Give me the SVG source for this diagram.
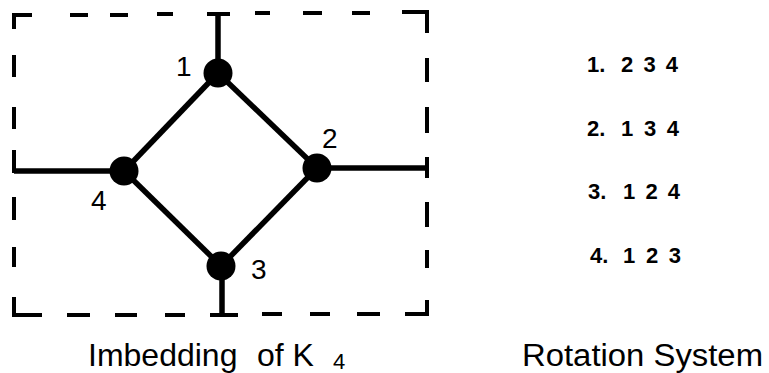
<svg xmlns="http://www.w3.org/2000/svg" width="769" height="373" viewBox="0 0 769 373">
<style>
.frame{fill:none;stroke:#000;stroke-width:4;stroke-linecap:butt;stroke-linejoin:miter}
.edge{fill:none;stroke:#000;stroke-width:5.5;stroke-linecap:butt}
.node{fill:#000}
.lbl{font-family:"Liberation Sans",Arial,sans-serif;font-size:28px;fill:#000}
.rot{font-family:"Liberation Sans",Arial,sans-serif;font-size:22px;font-weight:bold;fill:#000}
.cap{font-family:"Liberation Sans",Arial,sans-serif;font-size:32px;fill:#000}
</style>
<rect width="769" height="373" fill="#fff"/>
<g id="frame" class="frame">
<path d="M14,29 L14,15 L32,15"/>
<path d="M70,15 H88 M110,15 H128 M157,14 H173 M207,14 H230 M255,13 H270 M303,13 H322 M352,13 H370"/>
<path d="M402,12 L427,12 L427,33"/>
<path d="M14,55 V77 M14,107 V129 M14,197 V220 M14,247 V267"/>
<path d="M14,150 V173"/>
<path d="M14,297 L14,315 L42,315"/>
<path d="M67,315 H90 M115,315 H137 M165,315 H185 M210,315 H238 M262,314 H282 M310,314 H330 M357,314 H380"/>
<path d="M405,314 L427,314 L427,300"/>
<path d="M427,58 V82 M427,107 V133 M427,157 V178 M427,202 V227 M427,250 V268"/>
</g>
<g id="connectors">
<line class="edge" x1="218" y1="73" x2="317" y2="168"/>
<line class="edge" x1="317" y1="168" x2="221" y2="266"/>
<line class="edge" x1="221" y1="266" x2="124" y2="171"/>
<line class="edge" x1="124" y1="171" x2="218" y2="73"/>
<line class="edge" x1="218" y1="73" x2="218" y2="14"/>
<line class="edge" x1="317" y1="168" x2="427" y2="168"/>
<line class="edge" x1="124" y1="171" x2="14" y2="171"/>
<line class="edge" x1="222" y1="266" x2="222" y2="315"/>
</g>
<g id="node1"><circle class="node" cx="218" cy="73" r="14.5"/><text class="lbl" x="176" y="76">1</text></g>
<g id="node2"><circle class="node" cx="317" cy="168" r="14.5"/><text class="lbl" x="322" y="148">2</text></g>
<g id="node3"><circle class="node" cx="221" cy="266" r="14.5"/><text class="lbl" x="251" y="279">3</text></g>
<g id="node4"><circle class="node" cx="124" cy="171" r="14.5"/><text class="lbl" x="91" y="210">4</text></g>
<g id="rotation">
<text class="rot" x="587" y="72">1.</text><text class="rot" x="621" y="72" textLength="57" lengthAdjust="spacing">2 3 4</text>
<text class="rot" x="587" y="136">2.</text><text class="rot" x="621" y="136" textLength="58" lengthAdjust="spacing">1 3 4</text>
<text class="rot" x="588" y="199">3.</text><text class="rot" x="623" y="199" textLength="57" lengthAdjust="spacing">1 2 4</text>
<text class="rot" x="590" y="263">4.</text><text class="rot" x="623" y="263" textLength="58" lengthAdjust="spacing">1 2 3</text>
</g>
<g id="captions">
<text class="cap" x="88" y="366">Imbedding</text>
<text class="cap" x="257" y="366">of K</text>
<text class="cap" x="333" y="369" style="font-size:22px">4</text>
<text class="cap" x="522" y="366" style="font-size:31px" textLength="241" lengthAdjust="spacingAndGlyphs">Rotation System</text>
</g>
</svg>
